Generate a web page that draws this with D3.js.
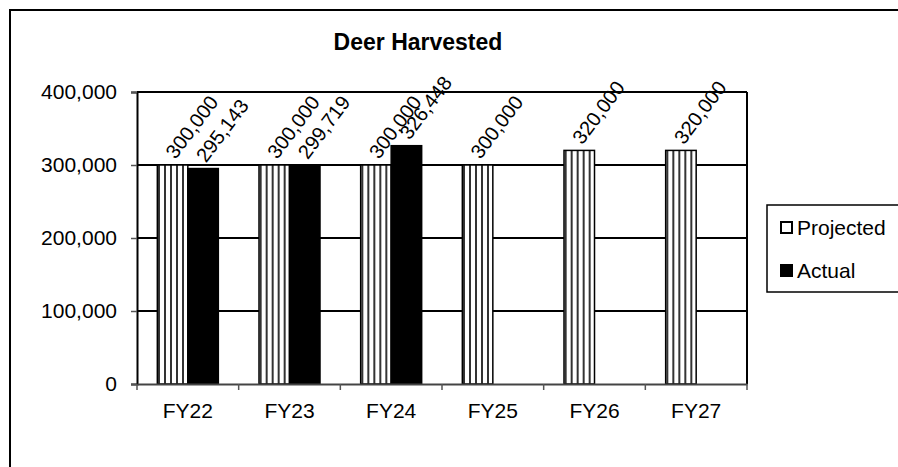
<!DOCTYPE html>
<html>
<head>
<meta charset="utf-8">
<script src="https://cdn.jsdelivr.net/npm/d3@7"></script>
<style>
  body { margin: 0; background: #fff; }
  svg { display: block; font-family: "Liberation Sans", Arial, sans-serif; }
</style>
</head>
<body>
<svg id="chart" width="898" height="467"></svg>
<script>
const categories = ['FY22', 'FY23', 'FY24', 'FY25', 'FY26', 'FY27']
const seriesNames = ['Projected', 'Actual']
const projected = [300000, 300000, 300000, 300000, 320000, 320000]
const actual = [295143, 299719, 326448, null, null, null]
const yTicks = [0, 100000, 200000, 300000, 400000]

const svg = d3.select('svg#chart')
const plotLeft = 137, plotRight = 747, plotTop = 92, plotBottom = 384

// stripe fill for the projected bars
const defs = svg.append('defs')
const pat = defs.append('pattern')
  .attr('id', 'vstripe')
  .attr('patternUnits', 'userSpaceOnUse')
  .attr('width', 6)
  .attr('height', 10)
pat.append('rect').attr('width', 6).attr('height', 10).attr('fill', '#fff')
pat.append('line')
  .attr('x1', 4).attr('x2', 4).attr('y1', 0).attr('y2', 10)
  .attr('stroke', '#000').attr('stroke-width', 1.6)

// outer chart border (runs off the right and bottom)
svg.append('rect')
  .attr('x', 10).attr('y', 10)
  .attr('width', 900).attr('height', 470)
  .attr('fill', 'none').attr('stroke', '#000').attr('stroke-width', 2)

const x0 = d3.scaleBand().domain(categories).range([plotLeft, plotRight])
const x1 = d3.scaleBand()
  .domain(seriesNames)
  .range([x0.bandwidth() * 0.2, x0.bandwidth() * 0.8])
const y = d3.scaleLinear().domain([0, 400000]).range([plotBottom, plotTop])

// gridlines
svg.append('g')
  .selectAll('line')
  .data(yTicks.slice(1))
  .enter()
  .append('line')
  .attr('x1', plotLeft).attr('x2', plotRight)
  .attr('y1', d => y(d)).attr('y2', d => y(d))
  .attr('stroke', '#000').attr('stroke-width', 2)

// right edge of plot area
svg.append('line')
  .attr('x1', plotRight).attr('x2', plotRight)
  .attr('y1', plotTop).attr('y2', plotBottom)
  .attr('stroke', '#000').attr('stroke-width', 2)

const rows = categories.map((c, i) => ({ cat: c, values: [
  { key: 'Projected', v: projected[i] },
  { key: 'Actual', v: actual[i] }
].filter(d => d.v != null) }))

const groups = svg.append('g')
  .selectAll('g')
  .data(rows)
  .enter()
  .append('g')
  .attr('transform', d => `translate(${x0(d.cat)},0)`)

groups.selectAll('rect')
  .data(d => d.values)
  .enter()
  .append('rect')
  .attr('x', d => x1(d.key))
  .attr('y', d => y(d.v))
  .attr('width', x1.bandwidth())
  .attr('height', d => y(0) - y(d.v))
  .attr('fill', d => d.key === 'Projected' ? 'url(#vstripe)' : '#000')
  .attr('stroke', '#000')
  .attr('stroke-width', 1.5)

// rotated value labels
groups.selectAll('text')
  .data(d => d.values)
  .enter()
  .append('text')
  .attr('transform', d => `translate(${x1(d.key) + x1.bandwidth() / 2 + 3},${y(d.v) - 5}) rotate(-53)`)
  .attr('font-size', '20px')
  .attr('fill', '#000')
  .text(d => d3.format(',')(d.v))

// y axis
const yAxis = svg.append('g')
  .attr('transform', `translate(${plotLeft},0)`)
  .call(d3.axisLeft(y).tickValues(yTicks).tickFormat(d3.format(',')).tickSize(6).tickPadding(14))
yAxis.select('.domain').attr('stroke', '#000').attr('stroke-width', 2)
yAxis.selectAll('.tick line').attr('stroke', '#555').attr('stroke-width', 1.5)
yAxis.selectAll('text').attr('font-size', '21px').attr('fill', '#000')
yAxis.attr('font-family', null)

// x axis
const xAxis = svg.append('g')
  .attr('transform', `translate(0,${plotBottom})`)
  .call(d3.axisBottom(x0).tickSize(0).tickPadding(19))
xAxis.select('.domain').attr('stroke', '#444').attr('stroke-width', 2)
xAxis.selectAll('text').attr('font-size', '21px').attr('fill', '#000')
xAxis.attr('font-family', null)

// category boundary ticks
svg.append('g')
  .selectAll('line')
  .data(categories.concat(['end']))
  .enter()
  .append('line')
  .attr('x1', (d, i) => i < categories.length ? x0(d) : plotRight)
  .attr('x2', (d, i) => i < categories.length ? x0(d) : plotRight)
  .attr('y1', plotBottom).attr('y2', plotBottom + 6)
  .attr('stroke', '#555').attr('stroke-width', 1.5)

// title
svg.append('text')
  .attr('x', 418).attr('y', 50)
  .attr('text-anchor', 'middle')
  .attr('font-size', '23px')
  .attr('font-weight', 'bold')
  .text('Deer Harvested')

// legend
const legend = svg.append('g')
legend.append('rect')
  .attr('x', 767).attr('y', 205)
  .attr('width', 140).attr('height', 87)
  .attr('fill', '#fff').attr('stroke', '#000').attr('stroke-width', 1.5)

const items = legend.selectAll('g')
  .data(seriesNames)
  .enter()
  .append('g')
  .attr('transform', (d, i) => `translate(781,${222 + i * 43})`)
items.append('rect')
  .attr('width', 11).attr('height', 11)
  .attr('fill', d => d === 'Projected' ? '#fff' : '#000')
  .attr('stroke', '#000').attr('stroke-width', 2)
items.append('text')
  .attr('x', 16).attr('y', 6)
  .attr('dy', '0.35em')
  .attr('font-size', '21px')
  .text(d => d)
</script>
</body>
</html>
